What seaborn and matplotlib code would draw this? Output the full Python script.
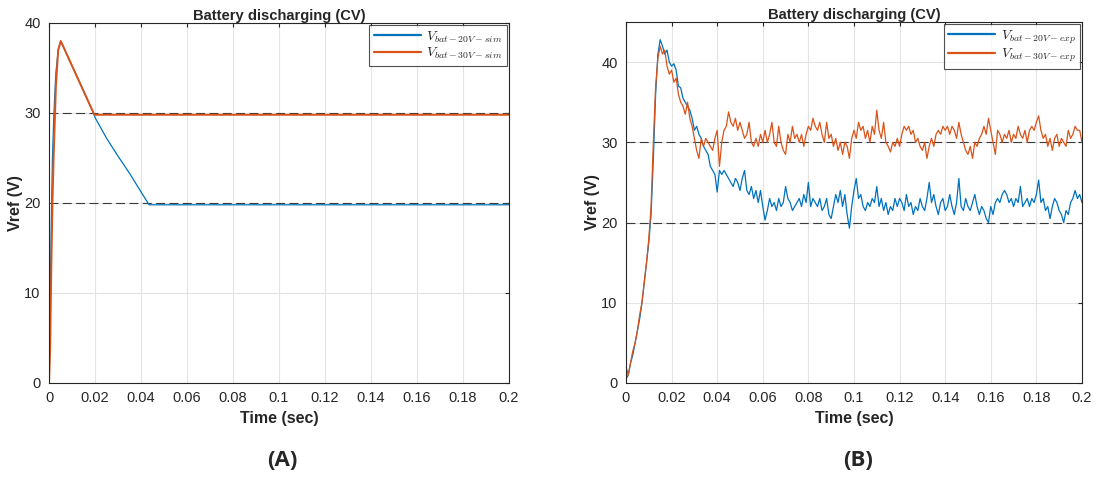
import numpy as np
import pandas as pd
import matplotlib
matplotlib.use("Agg")
import matplotlib.pyplot as plt
import seaborn as sns

# --- simulated (A) ---
sim_t_20 = [0, 0.0005, 0.001, 0.0015, 0.002, 0.0025, 0.003, 0.004, 0.0051,
            0.019, 0.02, 0.025, 0.03, 0.035, 0.043, 0.0435, 0.2]
sim_v_20 = [0, 8, 18, 25, 29, 32, 34.5, 37, 38,
            30.2, 29.5, 27.2, 25.2, 23.3, 20.0, 19.8, 19.8]
sim_t_30 = [0, 0.0005, 0.001, 0.0015, 0.002, 0.0025, 0.003, 0.004, 0.0051,
            0.019, 0.0195, 0.02, 0.2]
sim_v_30 = [0, 4, 13, 20, 25, 29, 33, 37, 38,
            30.2, 29.9, 29.8, 29.8]

# --- experimental (B), one reading per ms ---
exp_t = [i / 1000 for i in range(201)]
exp_v_20 = [
    0.5, 1.0, 2.5, 3.5, 5.0, 6.5, 8.0, 10.0, 12.5, 15.0,
    17.5, 21.0, 28.0, 36.0, 41.0, 42.8, 42.0, 41.0, 41.5, 40.0,
    39.5, 39.8, 39.0, 37.0, 36.8, 35.5, 35.0, 34.5, 34.0, 33.0,
    31.5, 32.0, 31.0, 30.5, 29.5, 29.0, 28.5, 27.0, 26.5, 26.0,
    23.8, 26.5, 26.0, 26.5, 26.0, 25.5, 25.0, 24.5, 25.5, 25.0,
    24.0, 25.5, 26.5, 24.0, 23.5, 24.5, 23.0, 24.0, 22.5, 24.0,
    22.0, 20.3, 21.5, 23.0, 22.0, 22.5, 21.5, 23.0, 22.0, 22.5,
    24.5, 23.0, 22.5, 21.5, 22.0, 22.5, 23.0, 22.0, 23.5, 22.5,
    25.0, 22.0, 23.0, 22.5, 22.0, 23.0, 21.5, 22.0, 23.0, 21.0,
    20.5, 22.0, 23.5, 22.5, 24.0, 22.0, 23.5, 21.0, 19.3, 22.0,
    24.0, 25.5, 23.0, 23.5, 22.0, 21.5, 22.5, 22.0, 23.0, 22.5,
    24.5, 22.0, 23.0, 21.5, 22.5, 21.0, 22.0, 21.5, 23.0, 22.0,
    23.0, 22.5, 21.5, 23.5, 22.0, 22.5, 21.0, 22.0, 21.5, 23.0,
    22.0, 21.5, 23.0, 25.0, 22.5, 23.5, 22.0, 21.0, 22.5, 23.0,
    21.5, 22.0, 23.5, 22.0, 21.0, 22.5, 25.5, 22.0, 21.5, 23.0,
    22.0, 21.5, 22.5, 23.5, 22.0, 21.0, 22.0, 21.5, 20.5, 20.0,
    22.0, 21.0, 22.5, 23.0, 22.5, 23.5, 24.0, 23.5, 22.5, 23.0,
    22.0, 23.0, 22.5, 24.5, 22.0, 22.5, 23.0, 22.0, 23.0, 22.5,
    23.5, 25.3, 22.5, 23.0, 21.5, 22.0, 20.5, 22.0, 23.0, 22.5,
    21.5, 21.0, 20.0, 21.5, 21.0, 22.5, 23.0, 24.0, 23.0, 23.5,
    22.5,
]
exp_v_30 = [
    2.0, 1.0, 2.5, 4.0, 5.0, 6.5, 8.5, 10.0, 12.5, 15.0,
    18.0, 22.0, 30.0, 37.0, 40.5, 42.0, 41.0, 41.5, 39.5, 38.5,
    39.0, 37.5, 38.0, 36.0, 35.0, 34.5, 33.5, 35.0, 33.0, 32.0,
    30.5, 29.0, 28.0, 30.5, 29.5, 30.5, 30.0, 29.5, 29.0, 30.5,
    31.5, 27.0, 30.0, 31.5, 32.0, 33.8, 32.5, 32.0, 33.0, 31.5,
    32.5, 31.5, 30.5, 31.0, 32.5, 30.0, 29.5, 30.5, 29.5, 31.0,
    30.0, 31.5, 30.0, 31.0, 32.5, 30.0, 29.5, 32.0, 30.0, 29.0,
    28.5, 31.0, 30.0, 32.0, 30.5, 31.0, 30.0, 31.0, 29.5, 31.0,
    32.0, 31.5, 33.0, 32.0, 31.5, 32.5, 31.0, 30.0, 32.5, 30.5,
    31.0, 29.5, 30.5, 29.0, 30.0, 28.5, 30.0, 29.5, 28.0, 30.5,
    31.5, 30.5, 32.5, 31.5, 32.0, 30.5, 31.5, 30.0, 32.0, 31.0,
    34.0, 31.5, 30.5, 32.5, 30.0, 29.5, 28.8, 30.0, 29.5, 30.5,
    29.5, 31.0, 32.0, 31.5, 32.0, 31.0, 31.5, 30.0, 30.5, 29.5,
    29.0, 30.0, 28.0, 29.5, 30.5, 29.5, 31.0, 31.5, 31.0, 32.0,
    31.5, 32.0, 31.0, 32.0, 31.5, 30.5, 32.5, 31.0, 30.0, 29.0,
    28.5, 29.5, 28.0, 30.0, 29.5, 30.5, 31.0, 32.0, 31.0, 33.0,
    31.5, 30.0, 28.5, 31.5, 31.0, 30.0, 31.0, 30.5, 31.5, 30.0,
    31.0, 30.5, 32.0, 31.0, 30.5, 31.5, 30.0, 31.5, 32.0, 31.5,
    32.5, 33.3, 31.5, 30.5, 31.0, 29.5, 30.5, 29.0, 30.5, 31.0,
    29.5, 30.5, 30.0, 29.5, 31.5, 30.5, 31.0, 32.0, 31.5, 31.5,
    30.0,
]

ref_levels = [20, 30]
blue = "#0072BD"
orange = "#D95319"

sns.set_theme(style="white")
plt.rcParams["font.family"] = ["Liberation Sans", "DejaVu Sans"]
plt.rcParams["mathtext.fontset"] = "cm"

fig = plt.figure(figsize=(10.99, 4.8), dpi=100)
axA = fig.add_axes([0.0446, 0.2021, 0.4186, 0.75])
axB = fig.add_axes([0.5696, 0.2021, 0.4149, 0.752])

sim20 = pd.DataFrame({"t": sim_t_20, "v": sim_v_20})
sim30 = pd.DataFrame({"t": sim_t_30, "v": sim_v_30})
exp20 = pd.DataFrame({"t": exp_t, "v": exp_v_20})
exp30 = pd.DataFrame({"t": exp_t, "v": exp_v_30})

sns.lineplot(data=sim20, x="t", y="v", ax=axA, color=blue, lw=0.9,
             label=r"$V_{bat-20V-sim}$")
sns.lineplot(data=sim30, x="t", y="v", ax=axA, color=orange, lw=1.4,
             label=r"$V_{bat-30V-sim}$")
sns.lineplot(data=exp20, x="t", y="v", ax=axB, color=blue, lw=0.9,
             label=r"$V_{bat-20V-exp}$")
sns.lineplot(data=exp30, x="t", y="v", ax=axB, color=orange, lw=0.9,
             label=r"$V_{bat-30V-exp}$")

for ax, ymax in [(axA, 40), (axB, 45)]:
    for lv in ref_levels:
        ax.axhline(lv, color="#3a3a3a", lw=0.8, ls=(0, (8, 4)), zorder=1)
    ax.set_xlim(0, 0.2)
    ax.set_ylim(0, ymax)
    ax.set_xticks(np.arange(0, 0.201, 0.02))
    ax.set_xticklabels(["0", "0.02", "0.04", "0.06", "0.08", "0.1", "0.12",
                        "0.14", "0.16", "0.18", "0.2"])
    ax.set_yticks([0, 10, 20, 30, 40])
    ax.grid(True, color="#e3e3e3", lw=0.8)
    ax.set_axisbelow(True)
    ax.tick_params(direction="in", length=3, width=0.8, colors="#262626",
                   labelsize=10.5, top=True, right=True, pad=6)
    for s in ax.spines.values():
        s.set_color("#262626")
        s.set_linewidth(0.8)
    ax.set_title("Battery discharging (CV)", fontsize=10.6, fontweight="bold", pad=2)
    ax.set_xlabel("Time (sec)", fontsize=11.5, fontweight="bold", labelpad=4)
    ax.set_ylabel("Vref (V)", fontsize=11.5, fontweight="bold", labelpad=1)
    leg = ax.legend(loc="upper right", fontsize=10, frameon=True, fancybox=False,
                    borderaxespad=0.15, handlelength=3.4, borderpad=0.3,
                    labelspacing=0.1, handletextpad=0.4)
    leg.get_frame().set_edgecolor("#262626")
    leg.get_frame().set_linewidth(0.8)
    for h in leg.get_lines():
        h.set_linewidth(1.6)

fig.text(0.2566, 0.04, "(A)", ha="center", va="center", fontsize=16,
         fontweight="bold", family=["Open Sans", "DejaVu Sans"])
fig.text(0.7807, 0.04, "(B)", ha="center", va="center", fontsize=16,
         fontweight="bold", family=["Open Sans", "DejaVu Sans"])

fig.savefig("out.png", dpi=100)
